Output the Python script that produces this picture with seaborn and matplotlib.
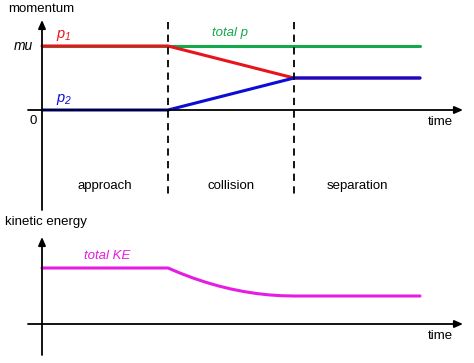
import numpy as np
import matplotlib
matplotlib.use("Agg")
import matplotlib.pyplot as plt
import pandas as pd
import seaborn as sns

# time in units of the approach phase; collision runs from t=1 to t=2
t_mom = [0, 1, 2, 3]
p1 = [1.0, 1.0, 0.5, 0.5]
p2 = [0.0, 0.0, 0.5, 0.5]
p_total = [1.0, 1.0, 1.0, 1.0]

t_ke = [0, 1, 1.1, 1.2, 1.3, 1.4, 1.5, 1.6, 1.7, 1.8, 1.9, 2, 3]
ke_total = [1.0, 1.0, 0.905, 0.82, 0.745, 0.68, 0.625, 0.58, 0.545, 0.52, 0.505, 0.5, 0.5]

phase_edges = [1, 2]
phase_names = ["approach", "collision", "separation"]
phase_mid = [0.5, 1.5, 2.5]

RED = "#e8141c"
BLUE = "#0c0cd6"
GREEN = "#14a84a"
MAGENTA = "#e41ce4"

sns.set_style("white")
plt.rcParams["font.family"] = ["Liberation Sans", "DejaVu Sans"]
plt.rcParams["text.color"] = "black"
plt.rcParams["mathtext.fontset"] = "custom"
plt.rcParams["mathtext.it"] = "Liberation Sans:italic"
plt.rcParams["mathtext.rm"] = "Liberation Sans:italic"

fs = 9.5
fig = plt.figure(figsize=(4.74, 3.63), dpi=100)
W, H = 474, 363
# x: pixel 42 -> t=0, 126 px per unit
xlim = (-42 / 126, (W - 42) / 126)

ax1 = fig.add_axes([0, 1 - 210 / H, 1, 210 / H])
ax1.set_xlim(*xlim)
ax1.set_ylim(-100 / 64, 110 / 64)
ax2 = fig.add_axes([0, 0, 1, 1 - 210 / H])
ax2.set_xlim(*xlim)
ax2.set_ylim(-39 / 56, 114 / 56)
for ax in (ax1, ax2):
    ax.set_axis_off()

# momentum lines
df = pd.DataFrame({"t": t_mom, "p1": p1, "p2": p2, "tot": p_total})
sns.lineplot(data=df, x="t", y="tot", color=GREEN, lw=2.2, ax=ax1)
sns.lineplot(data=df, x="t", y="p1", color=RED, lw=2.2, ax=ax1)
sns.lineplot(data=df, x="t", y="p2", color=BLUE, lw=2.2, ax=ax1)

# axes with arrows
arr = dict(arrowstyle="-|>,head_length=0.5,head_width=0.22", color="black", lw=1.3,
           shrinkA=0, shrinkB=0)
ax1.annotate("", xy=(xlim[0] + 463 / 126, 0), xytext=(xlim[0] + 28 / 126, 0), arrowprops=arr)
ax1.annotate("", xy=(0, 90 / 64), xytext=(0, -100 / 64), arrowprops=arr)
ax2.annotate("", xy=(xlim[0] + 463 / 126, 0), xytext=(xlim[0] + 28 / 126, 0), arrowprops=arr)
ax2.annotate("", xy=(0, 87 / 56), xytext=(0, -31 / 56), arrowprops=arr)

for x in phase_edges:
    ax1.plot([x, x], [88 / 64, -85 / 64], color="black", lw=1.3, ls=(0, (4, 3)))
for x, name in zip(phase_mid, phase_names):
    ax1.text(x, -76 / 64, name, ha="center", va="center", fontsize=fs)

ax1.text(8 / 126 + xlim[0], 101 / 64, "momentum", ha="left", va="center", fontsize=fs)
ax1.text(-0.07, 1.0, "mu", ha="right", va="center", fontsize=fs + 0.5, style="italic")
ax1.text(-0.04, -11 / 64, "0", ha="right", va="center", fontsize=fs)
ax1.text(xlim[0] + 440 / 126, -12 / 64, "time", ha="center", va="center", fontsize=fs)
ax1.text(0.11, 1.16, r"$p_{1}$", color=RED, ha="left", va="center", fontsize=fs + 1)
ax1.text(0.11, 0.16, r"$p_{2}$", color=BLUE, ha="left", va="center", fontsize=fs + 1)
ax1.text(1.49, 1.2, "total p", color=GREEN, ha="center", va="center", fontsize=fs, style="italic")

# kinetic energy
dk = pd.DataFrame({"t": t_ke, "ke": ke_total})
sns.lineplot(data=dk, x="t", y="ke", color=MAGENTA, lw=2.2, ax=ax2)
ax2.text(xlim[0] + 5 / 126, 102 / 56, "kinetic energy", ha="left", va="center", fontsize=fs)
ax2.text(0.52, 1.22, "total KE", color=MAGENTA, ha="center", va="center", fontsize=fs, style="italic")
ax2.text(xlim[0] + 440 / 126, -12 / 56, "time", ha="center", va="center", fontsize=fs)

fig.savefig("out.png", dpi=100)
